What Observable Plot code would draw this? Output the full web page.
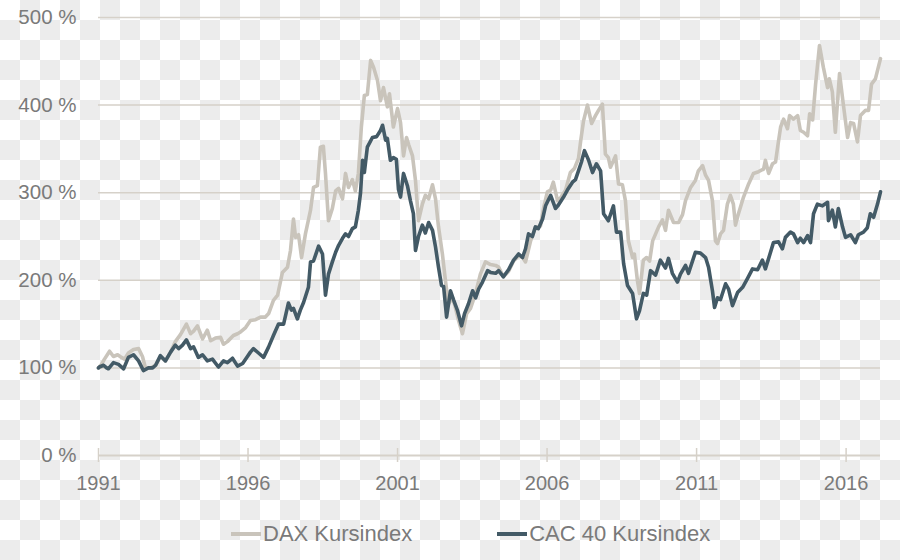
<!DOCTYPE html>
<html>
<head>
<meta charset="utf-8">
<script src="https://cdn.jsdelivr.net/npm/d3@7"></script>
<script src="https://cdn.jsdelivr.net/npm/@observablehq/plot@0.6"></script>
<style>
  html, body { margin: 0; padding: 0; background: #ffffff; }
  #page {
    position: relative;
    width: 900px; height: 560px; overflow: hidden;
    background-color: #ffffff;
    background-image: url("data:image/svg+xml,%3Csvg xmlns='http://www.w3.org/2000/svg' width='40' height='40'%3E%3Crect width='40' height='40' fill='%23ffffff'/%3E%3Crect x='20' y='0' width='20' height='20' fill='%23ececec'/%3E%3Crect x='0' y='20' width='20' height='20' fill='%23ececec'/%3E%3C/svg%3E");
    background-size: 40px 40px;
    background-repeat: repeat;
    font-family: "Liberation Sans", Arial, sans-serif;
  }
  #chart svg { display: block; background: transparent; }
  .legend { display: flex; align-items: center; margin-left: 231px; padding-top: 19px; gap: 85px; height: 20px; }
  .legend .item { display: flex; align-items: center; font-size: 22px; color: #7a7a7a; line-height: 20px; }
  .legend .sw { width: 30px; height: 4px; margin-right: 2px; }
</style>
</head>
<body>
<div id="page">
<div id="chart"></div>
<div class="legend" id="legend"></div>
</div>
<script>
const seriesNames = ["DAX Kursindex", "CAC 40 Kursindex"];
const seriesColors = ["#c9c4bb", "#435a66"];
const xTicks = [1991, 1996, 2001, 2006, 2011, 2016];
const yTicks = [0, 100, 200, 300, 400, 500];

const daxYear = [1991.00,1991.10,1991.20,1991.37,1991.50,1991.64,1991.77,1991.87,1992.00,1992.17,1992.34,1992.47,1992.57,1992.74,1992.91,1993.07,1993.24,1993.41,1993.57,1993.74,1993.94,1994.08,1994.18,1994.31,1994.48,1994.64,1994.75,1994.91,1995.08,1995.18,1995.31,1995.51,1995.65,1995.75,1995.92,1996.08,1996.25,1996.42,1996.58,1996.69,1996.85,1996.99,1997.15,1997.32,1997.42,1997.52,1997.59,1997.69,1997.79,1997.92,1998.09,1998.19,1998.32,1998.42,1998.52,1998.59,1998.69,1998.82,1998.93,1999.03,1999.16,1999.26,1999.36,1999.49,1999.59,1999.69,1999.79,1999.89,1999.99,2000.10,2000.20,2000.33,2000.43,2000.53,2000.66,2000.73,2000.86,2001.00,2001.10,2001.20,2001.30,2001.37,2001.50,2001.60,2001.70,2001.83,2001.93,2002.04,2002.17,2002.27,2002.37,2002.50,2002.60,2002.70,2002.84,2002.94,2003.04,2003.17,2003.31,2003.44,2003.61,2003.77,2003.94,2004.11,2004.28,2004.38,2004.54,2004.71,2004.88,2005.05,2005.18,2005.28,2005.45,2005.61,2005.78,2005.88,2006.01,2006.12,2006.21,2006.35,2006.45,2006.62,2006.78,2006.92,2007.05,2007.12,2007.22,2007.35,2007.49,2007.62,2007.72,2007.85,2007.95,2008.05,2008.12,2008.29,2008.39,2008.52,2008.62,2008.72,2008.86,2008.92,2009.02,2009.09,2009.22,2009.33,2009.43,2009.53,2009.63,2009.73,2009.86,2009.96,2010.06,2010.23,2010.40,2010.53,2010.63,2010.80,2010.96,2011.06,2011.20,2011.30,2011.40,2011.53,2011.63,2011.70,2011.80,2011.90,2012.03,2012.13,2012.23,2012.30,2012.40,2012.57,2012.74,2012.90,2013.07,2013.24,2013.30,2013.41,2013.54,2013.64,2013.71,2013.81,2013.91,2014.04,2014.11,2014.24,2014.38,2014.47,2014.58,2014.71,2014.78,2014.88,2014.98,2015.11,2015.24,2015.38,2015.44,2015.54,2015.64,2015.78,2015.91,2016.05,2016.15,2016.25,2016.38,2016.48,2016.65,2016.75,2016.85,2016.98,2017.15];
const daxValue = [100,104,110,119,113,115,112,110,117,121,122,113,100,100,103,113,108,118,130,138,150,139,142,148,133,143,131,134,135,127,130,137,139,141,146,154,155,158,158,162,177,183,209,215,234,270,249,252,226,253,280,306,308,352,353,322,268,282,302,305,293,322,306,315,302,322,375,411,412,451,443,428,405,420,398,413,375,396,380,342,363,355,342,314,268,287,297,293,309,293,261,230,200,173,180,168,154,139,162,168,185,207,221,218,217,215,204,210,222,228,226,221,245,260,262,282,301,303,312,291,294,303,323,328,339,358,382,400,379,388,394,401,344,340,329,342,310,309,291,245,226,230,200,185,223,226,222,245,253,261,269,257,280,266,266,275,291,306,314,325,331,320,314,291,245,242,253,257,287,297,287,263,276,295,310,322,324,327,337,322,333,335,352,375,384,373,388,384,388,371,369,365,390,383,424,468,443,420,430,415,369,436,400,363,380,379,358,388,394,394,424,430,453];

const cacYear = [1991.00,1991.03,1991.17,1991.27,1991.33,1991.50,1991.67,1991.84,1992.00,1992.17,1992.34,1992.50,1992.67,1992.81,1992.91,1993.07,1993.24,1993.41,1993.57,1993.68,1993.81,1993.94,1994.08,1994.18,1994.34,1994.48,1994.64,1994.81,1995.01,1995.18,1995.31,1995.48,1995.65,1995.82,1995.98,1996.08,1996.18,1996.35,1996.52,1996.69,1996.85,1997.02,1997.19,1997.35,1997.45,1997.52,1997.65,1997.75,1997.86,1998.02,1998.09,1998.19,1998.36,1998.49,1998.59,1998.69,1998.82,1998.93,1999.03,1999.16,1999.26,1999.36,1999.49,1999.59,1999.69,1999.76,1999.83,1999.89,1999.99,2000.16,2000.30,2000.43,2000.50,2000.60,2000.66,2000.76,2000.86,2000.96,2001.03,2001.10,2001.20,2001.33,2001.43,2001.53,2001.60,2001.70,2001.83,2001.93,2002.04,2002.17,2002.27,2002.37,2002.47,2002.54,2002.64,2002.77,2002.87,2003.00,2003.14,2003.24,2003.37,2003.51,2003.61,2003.71,2003.84,2004.01,2004.11,2004.28,2004.38,2004.54,2004.71,2004.88,2005.05,2005.18,2005.28,2005.38,2005.51,2005.61,2005.71,2005.85,2005.95,2006.12,2006.28,2006.38,2006.55,2006.68,2006.85,2006.95,2007.05,2007.15,2007.25,2007.39,2007.52,2007.65,2007.79,2007.89,2008.05,2008.22,2008.32,2008.46,2008.56,2008.69,2008.86,2008.99,2009.09,2009.22,2009.33,2009.46,2009.63,2009.79,2009.96,2010.06,2010.19,2010.36,2010.46,2010.63,2010.73,2010.96,2011.13,2011.30,2011.40,2011.53,2011.60,2011.70,2011.80,2011.97,2012.07,2012.20,2012.37,2012.54,2012.70,2012.87,2013.04,2013.20,2013.30,2013.41,2013.57,2013.74,2013.87,2013.97,2014.14,2014.24,2014.38,2014.47,2014.58,2014.71,2014.81,2014.91,2015.04,2015.21,2015.38,2015.41,2015.54,2015.64,2015.74,2015.88,2015.98,2016.15,2016.31,2016.41,2016.58,2016.71,2016.81,2016.92,2017.05,2017.15];
const cacValue = [100,101,103,100,99,106,104,99,112,115,108,97,100,100,103,114,108,118,126,122,126,132,122,124,112,115,108,110,101,108,106,111,102,105,113,118,122,117,112,124,137,150,150,174,166,168,156,166,175,192,221,222,239,230,183,207,221,232,240,248,253,250,259,261,280,299,337,323,352,363,364,371,377,360,362,337,340,338,304,295,322,308,291,276,234,250,263,254,266,257,238,215,194,193,158,188,178,166,148,162,173,188,180,190,198,211,209,208,211,204,212,223,230,226,236,253,250,261,259,270,285,297,282,286,295,303,312,315,325,335,348,337,323,333,325,276,268,285,255,255,219,194,185,156,165,185,183,211,206,223,214,225,208,198,207,217,208,232,231,226,215,188,169,180,178,196,190,171,186,192,202,213,212,223,213,225,243,244,236,249,255,253,243,248,243,251,243,276,287,285,289,268,280,261,282,261,249,252,243,252,255,260,276,272,287,301];

const rows = [
  ...daxYear.map((t, i) => ({year: t, value: daxValue[i], series: seriesNames[0]})),
  ...cacYear.map((t, i) => ({year: t, value: cacValue[i], series: seriesNames[1]}))
];

const gridColor = "#d6d1c9";
const textColor = "#7a7a7a";

const chart = Plot.plot({
  width: 900,
  height: 505,
  marginLeft: 98,
  marginRight: 20,
  marginTop: 17,
  marginBottom: 50,
  style: {background: "transparent", fontFamily: "'Liberation Sans', Arial, sans-serif", color: textColor},
  x: {domain: [1991, 2017.15], label: null},
  y: {domain: [0, 500], label: null},
  color: {domain: seriesNames, range: seriesColors},
  marks: [
    Plot.gridY(yTicks.filter(d => d > 0), {stroke: gridColor, strokeOpacity: 1, strokeWidth: 1.5}),
    Plot.ruleY([0], {stroke: gridColor, strokeWidth: 2}),
    Plot.axisY(yTicks, {tickSize: 0, tickPadding: 22, tickFormat: d => `${d} %`, fontSize: 20.5, fill: textColor, label: null}),
    Plot.axisX(xTicks, {tickSize: 7, tickPadding: 13, tickFormat: d => String(d), fontSize: 20, fill: textColor, stroke: gridColor, strokeWidth: 1.5, label: null}),
    Plot.axisX(xTicks, {tickSize: 7, dy: -7, text: null, stroke: gridColor, strokeWidth: 1.5, label: null}),
    Plot.line(rows.filter(d => d.series === seriesNames[0]), {x: "year", y: "value", stroke: "series", strokeWidth: 3.6, strokeLinejoin: "round", strokeLinecap: "round"}),
    Plot.line(rows.filter(d => d.series === seriesNames[1]), {x: "year", y: "value", stroke: "series", strokeWidth: 3.6, strokeLinejoin: "round", strokeLinecap: "round"})
  ]
});
document.getElementById("chart").appendChild(chart);

const legend = document.getElementById("legend");
seriesNames.forEach((name, i) => {
  const item = document.createElement("div");
  item.className = "item";
  const sw = document.createElement("span");
  sw.className = "sw";
  sw.style.background = seriesColors[i];
  const label = document.createElement("span");
  label.textContent = name;
  item.appendChild(sw);
  item.appendChild(label);
  legend.appendChild(item);
});
</script>
</body>
</html>
